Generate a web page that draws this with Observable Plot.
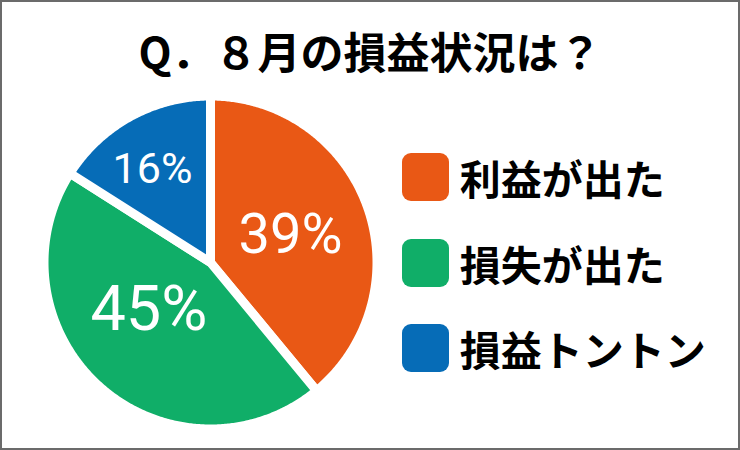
<!DOCTYPE html>
<html><head><meta charset="utf-8">
<script src="https://cdn.jsdelivr.net/npm/d3@7"></script>
<script src="https://cdn.jsdelivr.net/npm/@observablehq/plot@0.6"></script>
<style>
body{margin:0;background:#fff;}
#frame{position:relative;width:740px;height:450px;box-sizing:border-box;border:2px solid #6b6b6b;background:#fff;overflow:hidden;font-family:"Noto Sans CJK JP",sans-serif;}
#title{position:absolute;left:0;right:0;top:20px;text-align:center;font-size:43px;font-weight:700;line-height:56px;color:#000;}
#chart{position:absolute;left:37.5px;top:90px;}
#legend{position:absolute;left:399.7px;top:151px;}
.item{display:flex;align-items:center;height:48px;margin-bottom:37.5px;}
.sw{width:47px;height:48px;border-radius:9px;margin-right:11px;flex:none;}
.lab{font-size:41px;font-weight:700;line-height:48px;color:#000;white-space:nowrap;}
</style></head>
<body>
<div id="frame">
  <div id="title"></div>
  <div id="chart"></div>
  <div id="legend"></div>
</div>
<script>
const titleText = "Q．８月の損益状況は？";
const categories = ["利益が出た", "損失が出た", "損益トントン"];
const values = [39, 45, 16];
const colors = ["#E95815", "#10AE68", "#066CB7"];

document.getElementById("title").textContent = titleText;

// pie geometry from the data
const R = 166.5;
const arcs = d3.pie().sort(null).value(d => d)(values);
const features = arcs.map((a, i) => {
  const pts = [[0, 0]];
  const n = Math.max(2, Math.ceil((a.endAngle - a.startAngle) / (Math.PI / 360)));
  for (let k = 0; k <= n; k++) {
    const t = a.startAngle + (a.endAngle - a.startAngle) * k / n;
    pts.push([R * Math.sin(t), -R * Math.cos(t)]);
  }
  pts.push([0, 0]);
  return {type: "Feature", properties: {label: categories[i], value: values[i]}, geometry: {type: "Polygon", coordinates: [pts]}};
});
const labels = arcs.map((a, i) => ({label: categories[i], text: values[i] + "%", mid: (a.startAngle + a.endAngle) / 2}));
const lx = (d, r) => r * Math.sin(d.mid);
const ly = (d, r) => -r * Math.cos(d.mid);

const B = 170;
const domain = {type: "Polygon", coordinates: [[[-B, -B], [B, -B], [B, B], [-B, B], [-B, -B]]]};

function labelMark(i, r, size, dx, dy) {
  return Plot.text([labels[i]], {
    x: d => lx(d, r), y: d => ly(d, r), text: "text",
    fill: "white", fontSize: size, fontFamily: "Roboto", fontWeight: 400,
    dx, dy, textAnchor: "middle"
  });
}

const plot = Plot.plot({
  width: 340, height: 340, margin: 0,
  projection: {type: "identity", domain},
  color: {domain: categories, range: colors},
  marks: [
    Plot.geo(features, {fill: d => d.properties.label, stroke: "white", strokeWidth: 9, strokeLinejoin: "round"}),
    labelMark(0, 85, 56, 0, 1),
    labelMark(1, 78, 63, -10, -11),
    labelMark(2, 108, 43, -6, 1)
  ]
});
document.getElementById("chart").appendChild(plot);

const legend = d3.select("#legend");
categories.forEach((c, i) => {
  const it = legend.append("div").attr("class", "item");
  it.append("div").attr("class", "sw").style("background", colors[i]);
  it.append("div").attr("class", "lab").text(c);
});
</script>
</body></html>
